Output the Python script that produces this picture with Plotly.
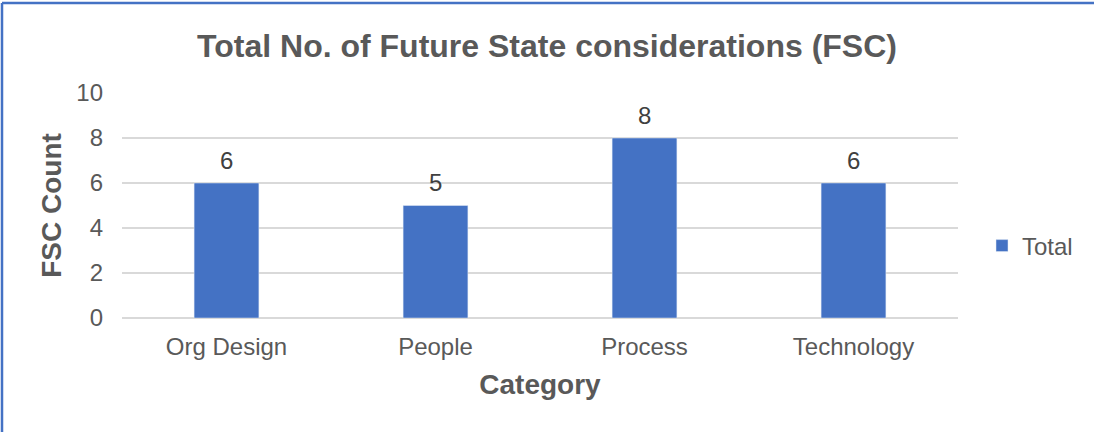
import plotly.graph_objects as go

categories = ["Org Design", "People", "Process", "Technology"]
totals = [6, 5, 8, 6]
y_ticks = [0, 2, 4, 6, 8, 10]

W, H = 1094, 432
L, R, T, B = 122, 958, 93, 318

def px_x(p):
    return (p - L) / (R - L)

def px_y(p):
    return (B - p) / (B - T)

fig = go.Figure()
fig.add_trace(go.Bar(
    x=categories, y=totals, name="Total",
    marker=dict(color="#4472c4"),
))
for c, v in zip(categories, totals):
    fig.add_annotation(x=c, y=v, text=str(v), showarrow=False,
                       yanchor="middle", yshift=23,
                       font=dict(family="Liberation Sans, Arial", size=24, color="#404040"))

fig.update_layout(
    width=W, height=H,
    margin=dict(l=L, r=W - R, t=T, b=H - B, autoexpand=False),
    paper_bgcolor="white", plot_bgcolor="white",
    font=dict(family="Liberation Sans, Arial", color="#595959"),
    bargap=0.69,
    title=dict(text="<b>Total No. of Future State considerations (FSC)</b>",
               x=0.5, xanchor="center", y=1 - 46 / H, yanchor="middle",
               font=dict(size=32, color="#595959")),
    showlegend=True,
    legend=dict(x=px_x(982), y=px_y(246), xanchor="left", yanchor="middle",
                font=dict(size=24, color="#595959"), itemwidth=30,
                bgcolor="rgba(0,0,0,0)"),
)
fig.update_xaxes(
    showgrid=False, showline=False, ticks="",
    tickfont=dict(size=24, color="#595959"), ticklabelstandoff=12,
    title=dict(text="<b>Category</b>", font=dict(size=28, color="#595959"), standoff=15),
)
fig.update_yaxes(
    range=[0, 10], tickvals=y_ticks, showgrid=True, gridcolor="#d9d9d9", gridwidth=1.5,
    zeroline=True, zerolinecolor="#d9d9d9", zerolinewidth=1.5,
    showline=False, ticks="", tickfont=dict(size=24, color="#595959"),
    ticklabelstandoff=18,
    title=dict(text="<b>FSC Count</b>", font=dict(size=28, color="#595959"), standoff=6),
)
# chart border (left and top edges visible)
fig.add_shape(type="line", xref="paper", yref="paper",
              x0=px_x(2), x1=px_x(2), y0=px_y(3), y1=px_y(445),
              line=dict(color="#4472c4", width=2.5))
fig.add_shape(type="line", xref="paper", yref="paper",
              x0=px_x(2), x1=px_x(1100), y0=px_y(3), y1=px_y(3),
              line=dict(color="#4472c4", width=2.5))

fig.write_html("out.html")
